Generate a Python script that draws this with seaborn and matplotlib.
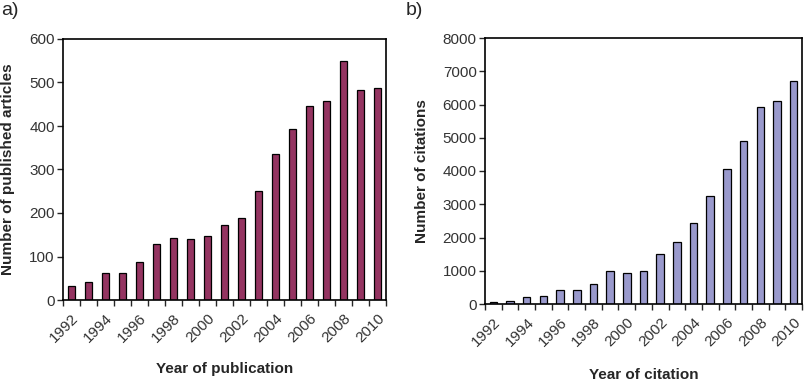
import numpy as np
import pandas as pd
import seaborn as sns
import matplotlib.pyplot as plt

years = [str(y) for y in range(1992, 2011)]
articles = [33, 42, 63, 62, 87, 128, 143, 141, 146, 172, 188, 251, 336, 394, 446, 457, 549, 483, 487]
citations = [50, 100, 200, 230, 420, 410, 590, 1000, 920, 1000, 1500, 1850, 2450, 3250, 4050, 4900, 5920, 6100, 6700]

sns.set_theme(style="white")
plt.rcParams["font.family"] = ["Liberation Sans", "DejaVu Sans"]


def draw_panel(ax, values, color, ylabel, xlabel, ymax, ystep, ypad, xpad):
    df = pd.DataFrame({"year": years, "value": values})
    sns.barplot(data=df, x="year", y="value", color=color, width=0.45,
                edgecolor="black", linewidth=0.9, saturation=1, ax=ax)
    ax.set_xlim(-0.5, len(years) - 0.5)
    ax.set_ylim(0, ymax)
    ax.set_yticks(np.arange(0, ymax + 1, ystep))
    ax.tick_params(axis="y", left=True, length=4, width=1, labelsize=11,
                   pad=2, labelcolor="#333333")
    ax.set_xticks(range(0, len(years), 2))
    ax.set_xticklabels(years[::2], rotation=45, ha="right", rotation_mode="anchor")
    ax.tick_params(axis="x", which="major", length=0, labelsize=11, pad=8,
                   labelcolor="#333333")
    ax.set_xticks(np.arange(-0.5, len(years), 1), minor=True)
    ax.tick_params(axis="x", which="minor", bottom=True, length=4, width=1)
    for s in ax.spines.values():
        s.set_color("black")
        s.set_linewidth(1.2)
    ax.set_xlabel(xlabel, fontweight="bold", fontsize=11, labelpad=xpad)
    ax.set_ylabel(ylabel, fontweight="bold", fontsize=11, labelpad=ypad)


fig = plt.figure(figsize=(8.08, 3.84), dpi=100)
ax1 = fig.add_axes([63 / 808, 1 - 300 / 384, 323 / 808, 261 / 384])
ax2 = fig.add_axes([485 / 808, 1 - 304 / 384, 317 / 808, 266 / 384])

draw_panel(ax1, articles, "#943461", "Number of published articles",
           "Year of publication", 600, 100, 10, 12)
draw_panel(ax2, citations, "#9999cc", "Number of citations",
           "Year of citation", 8000, 1000, 10, 14)

fig.text(1 / 808, 1 - 2 / 384, "a)", fontsize=14, va="top", ha="left")
fig.text(406 / 808, 1 - 2 / 384, "b)", fontsize=14, va="top", ha="left")

fig.savefig("out.png", dpi=100)
